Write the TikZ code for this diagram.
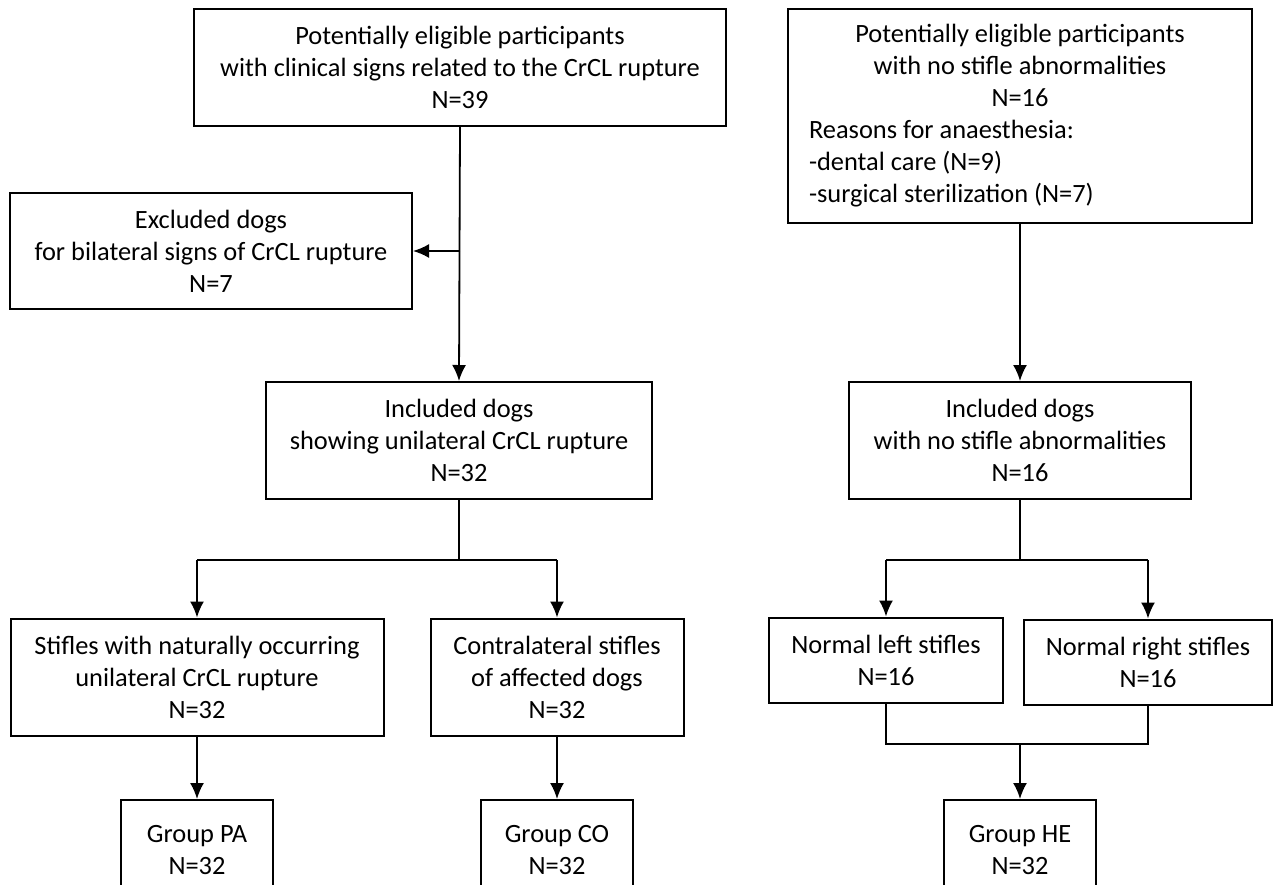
\documentclass[tikz,border=0pt]{standalone}
\usepackage{fontspec}
\setmainfont{Carlito}
\usetikzlibrary{arrows.meta,positioning,calc}

\begin{document}
\begin{tikzpicture}[x=0.5pt, y=-0.5pt,
    box/.style={draw, rectangle, line width=1pt, align=center, inner sep=2pt, font=\fontsize{13.2}{16}\selectfont},
    link/.style={line width=0.9pt},
    arr/.style={line width=0.9pt, -{Latex[length=8pt,width=7pt]}}]
        \path[use as bounding box, clip] (0,0) rectangle (1274,884);
        \fill[white] (0,0) rectangle (1274,884);

          % left branch: dogs with CrCL rupture
          \draw node[box, minimum width=266pt, minimum height=58.5pt] (elig) at (460,67.5) {Potentially eligible participants\\ with clinical signs related to the CrCL rupture\\ N=39};
          \draw node[box, minimum width=201pt, minimum height=58pt] (excl) at (211,251) {Excluded dogs\\ for bilateral signs of CrCL rupture\\ N=7};
          \draw node[box, minimum width=193pt, minimum height=58.5pt] (incl) at (459,440.5) {Included dogs\\ showing unilateral CrCL rupture\\ N=32};
          \draw node[box, minimum width=186.5pt, minimum height=58.5pt] (stif) at (197,677) {Stifles with naturally occurring\\ unilateral CrCL rupture\\ N=32};
          \draw node[box, minimum width=126.5pt, minimum height=58.5pt] (contra) at (557,677) {Contralateral stifles\\ of affected dogs\\ N=32};
          \draw node[box, minimum width=76pt, minimum height=50pt] (pa) at (197,850) {Group PA\\ N=32};
          \draw node[box, minimum width=76pt, minimum height=50pt] (co) at (557,850) {Group CO\\ N=32};

          % right branch: healthy dogs
          \draw node[box, align=left, minimum width=232pt, minimum height=107pt, inner sep=0pt] (eligH) at (1020,116) {\makebox[211pt]{Potentially eligible participants}\\ \makebox[211pt]{with no stifle abnormalities}\\ \makebox[211pt]{N=16}\\ Reasons for anaesthesia:\\ -dental care (N=9)\\ -surgical sterilization (N=7)};
          \draw node[box, minimum width=171pt, minimum height=58.5pt] (inclH) at (1020,440.5) {Included dogs\\ with no stifle abnormalities\\ N=16};
          \draw node[box, minimum width=117pt, minimum height=42.5pt] (normL) at (886,660) {Normal left stifles\\ N=16};
          \draw node[box, minimum width=124pt, minimum height=42.5pt] (normR) at (1148,662) {Normal right stifles\\ N=16};
          \draw node[box, minimum width=76pt, minimum height=50pt] (he) at (1020,850) {Group HE\\ N=32};

          \coordinate (ex) at (elig.south |- excl.east);
          \coordinate (b1) at (incl.south |- 0,560);
          \coordinate (b2) at (inclH.south |- 0,560);
          \coordinate (b3) at (he.north |- 0,744);

        \draw[arr] (elig.south) -- (incl.north);
        \draw[arr] (ex) -- (excl.east);
        \draw[link] (incl.south) -- (b1);
        \draw[link] (stif.north |- b1) -- (contra.north |- b1);
        \draw[arr] (stif.north |- b1) -- (stif.north);
        \draw[arr] (contra.north |- b1) -- (contra.north);
        \draw[arr] (stif.south) -- (pa.north);
        \draw[arr] (contra.south) -- (co.north);

        \draw[arr] (eligH.south) -- (inclH.north);
        \draw[link] (inclH.south) -- (b2);
        \draw[link] (normL.north |- b2) -- (normR.north |- b2);
        \draw[arr] (normL.north |- b2) -- (normL.north);
        \draw[arr] (normR.north |- b2) -- (normR.north);
        \draw[link] (normL.south) -- (normL.south |- b3) -- (normR.south |- b3) -- (normR.south);
        \draw[arr] (b3) -- (he.north);
      \end{tikzpicture}
\end{document}
